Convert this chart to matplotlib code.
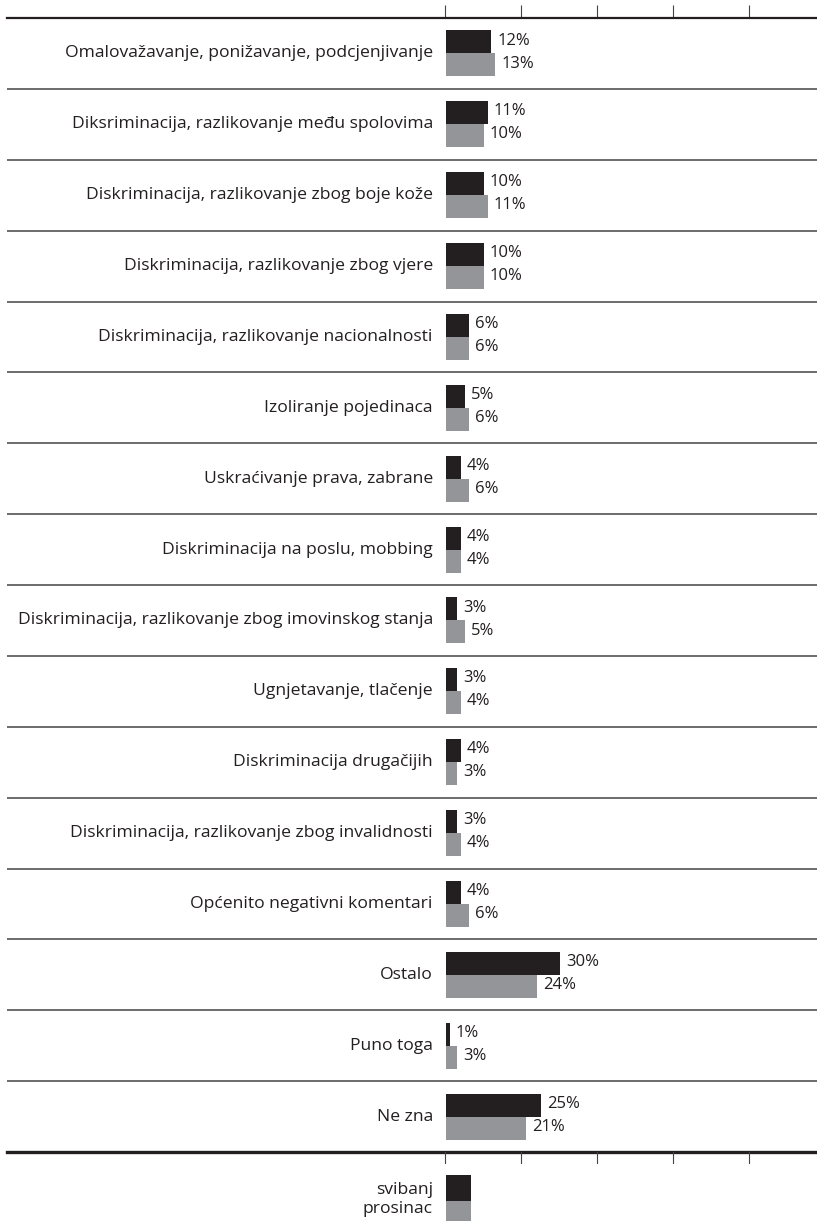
import matplotlib
matplotlib.use("Agg")
import matplotlib.pyplot as plt

plt.rcParams["font.family"] = ["Open Sans", "DejaVu Sans"]

# podaci
categories = [
    "Omalovažavanje, ponižavanje, podcjenjivanje",
    "Diksriminacija, razlikovanje među spolovima",
    "Diskriminacija, razlikovanje zbog boje kože",
    "Diskriminacija, razlikovanje zbog vjere",
    "Diskriminacija, razlikovanje nacionalnosti",
    "Izoliranje pojedinaca",
    "Uskraćivanje prava, zabrane",
    "Diskriminacija na poslu, mobbing",
    "Diskriminacija, razlikovanje zbog imovinskog stanja",
    "Ugnjetavanje, tlačenje",
    "Diskriminacija drugačijih",
    "Diskriminacija, razlikovanje zbog invalidnosti",
    "Općenito negativni komentari",
    "Ostalo",
    "Puno toga",
    "Ne zna",
]
svibanj = [12, 11, 10, 10, 6, 5, 4, 4, 3, 3, 4, 3, 4, 30, 1, 25]
prosinac = [13, 10, 11, 10, 6, 6, 6, 4, 5, 4, 3, 4, 6, 24, 3, 21]
series_names = ["svibanj", "prosinac"]
ticks = [0, 20, 40, 60, 80]

DARK = "#231f20"
GRAY = "#939598"
LINE = "#444444"

W, H = 817, 1221
fig = plt.figure(figsize=(W / 100, H / 100), dpi=100)

px_per_unit = 3.8
x_left = -(445 - 7) / px_per_unit
x_right = (W - 445) / px_per_unit

# glavni graf
ax = fig.add_axes([7 / W, 1 - 1152 / H, (W - 7) / W, (1152 - 18) / H])
n = len(categories)
ax.set_xlim(x_left, x_right)
ax.set_ylim(n, 0)

h = 0.325
pos = list(range(n))
y_dark = [p + 0.5 - h / 2 for p in pos]
y_gray = [p + 0.5 + h / 2 for p in pos]
ax.barh(y_dark, svibanj, height=h, color=DARK, left=0.2)
ax.barh(y_gray, prosinac, height=h, color=GRAY, left=0.2)

for i in range(n):
    ax.text(svibanj[i] + 1.8, y_dark[i] - 0.02, f"{svibanj[i]}%", ha="left",
            va="center", fontsize=12, color=DARK)
    ax.text(prosinac[i] + 1.8, y_gray[i] - 0.02, f"{prosinac[i]}%", ha="left",
            va="center", fontsize=12, color=DARK)
    ax.text(-3.2, i + 0.5, categories[i], ha="right", va="center",
            fontsize=12.6, color=DARK)

for i in range(1, n):
    ax.axhline(i, color=LINE, lw=1.1)

ax.set_yticks([])
ax.set_xticks(ticks)
ax.set_xticklabels([])
ax.xaxis.set_ticks_position("top")
ax.tick_params(axis="x", direction="out", length=9.5, width=0.8, color=LINE)
for s in ["left", "right", "bottom"]:
    ax.spines[s].set_visible(False)
ax.spines["top"].set_linewidth(1.6)
ax.spines["top"].set_color(DARK)

# donja os
ax.axhline(n, color=DARK, lw=2.4, clip_on=False)
for t in ticks:
    ax.plot([t, t], [n, n + 0.16], color=LINE, lw=0.8, clip_on=False)

# legenda
lax = fig.add_axes([7 / W, 0, (W - 7) / W, 56 / H])
lax.set_xlim(x_left, x_right)
lax.set_ylim(56, 0)
lax.axis("off")
lax.barh([23, 49], [6.6, 6.6], height=26, color=[DARK, GRAY], left=0.3)
lax.text(-3.2, 25, series_names[0], ha="right", va="center", fontsize=12.6, color=DARK)
lax.text(-3.2, 44, series_names[1], ha="right", va="center", fontsize=12.6, color=DARK)

fig.savefig("out.png", dpi=100)
